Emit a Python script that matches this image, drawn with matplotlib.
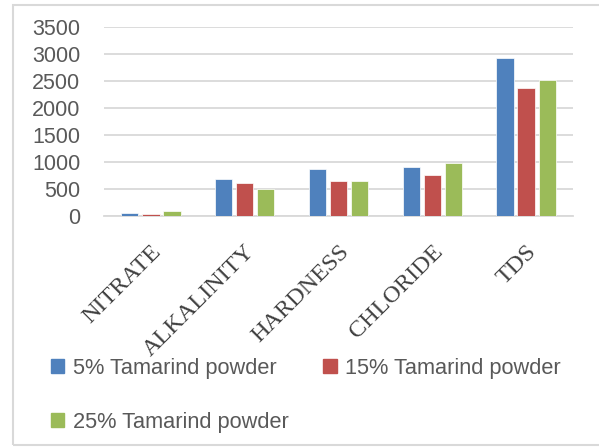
import matplotlib
matplotlib.use('Agg')
import matplotlib.patches as mpatches
import matplotlib.transforms as mtransforms
import numpy as np
from matplotlib import pyplot as plt

categories = ['NITRATE', 'ALKALINITY', 'HARDNESS', 'CHLORIDE', 'TDS']
series_names = ['5% Tamarind powder', '15% Tamarind powder', '25% Tamarind powder']
values_5 = [50, 680, 865, 900, 2930]
values_15 = [45, 610, 642, 760, 2375]
values_25 = [90, 495, 642, 975, 2520]
y_ticks = [0, 500, 1000, 1500, 2000, 2500, 3000, 3500]

colors = ['#4F81BD', '#C0504D', '#9BBB59']
text_grey = '#595959'
grid_grey = '#D9D9D9'


def main():
    fig = plt.figure(figsize=(5.99, 4.47), dpi=100)
    ax = fig.add_axes([0.1736, 0.5168, 0.783, 0.4235])

    # outer chart frame
    fig.patches.append(mpatches.Rectangle((0.0217, 0.0045), 1.2, 0.9843, transform=fig.transFigure,
                                          fill=False, edgecolor=grid_grey, linewidth=1.5))

    x = np.arange(len(categories))
    offsets = [-0.225, 0.0, 0.225]
    for data, off, col in zip([values_5, values_15, values_25], offsets, colors):
        ax.bar(x + off, data, width=0.185, color=col, edgecolor='white', linewidth=0.5, zorder=3)

    ax.set_xlim(-0.5, len(categories) - 0.5)
    ax.set_ylim(0, 3500)
    ax.set_yticks(y_ticks)
    ax.set_yticklabels([str(t) for t in y_ticks], fontfamily='Liberation Sans', fontsize=15.5, color=text_grey)
    ax.yaxis.grid(True, color=grid_grey, linewidth=1.3, zorder=0)
    ax.set_axisbelow(True)

    ax.set_xticks(x)
    ax.set_xticklabels(categories, rotation=45, ha='right', va='top', rotation_mode='anchor',
                       fontfamily='Liberation Serif', fontsize=17.5, color='#404040')
    shift = mtransforms.ScaledTranslation(-0.07, 0, fig.dpi_scale_trans)
    for label in ax.get_xticklabels():
        label.set_transform(label.get_transform() + shift)

    ax.tick_params(axis='both', length=0)
    ax.tick_params(axis='y', pad=17)
    ax.tick_params(axis='x', pad=18)

    for side in ['left', 'right', 'top']:
        ax.spines[side].set_visible(False)
    ax.spines['bottom'].set_color(grid_grey)
    ax.spines['bottom'].set_linewidth(1.3)

    handles = [mpatches.Patch(color=c) for c in colors]
    order = [0, 2, 1]
    fig.legend([handles[i] for i in order], [series_names[i] for i in order], ncol=2,
               loc='upper left', bbox_to_anchor=(0.0851, 0.199), frameon=False,
               borderpad=0, borderaxespad=0, handlelength=0.6, handleheight=0.6, handletextpad=0.4,
               columnspacing=1.6, labelspacing=1.5,
               prop={'family': 'Liberation Sans', 'size': 15.7}, labelcolor=text_grey)

    fig.savefig('out.png', dpi=100)


if __name__ == '__main__':
    main()
